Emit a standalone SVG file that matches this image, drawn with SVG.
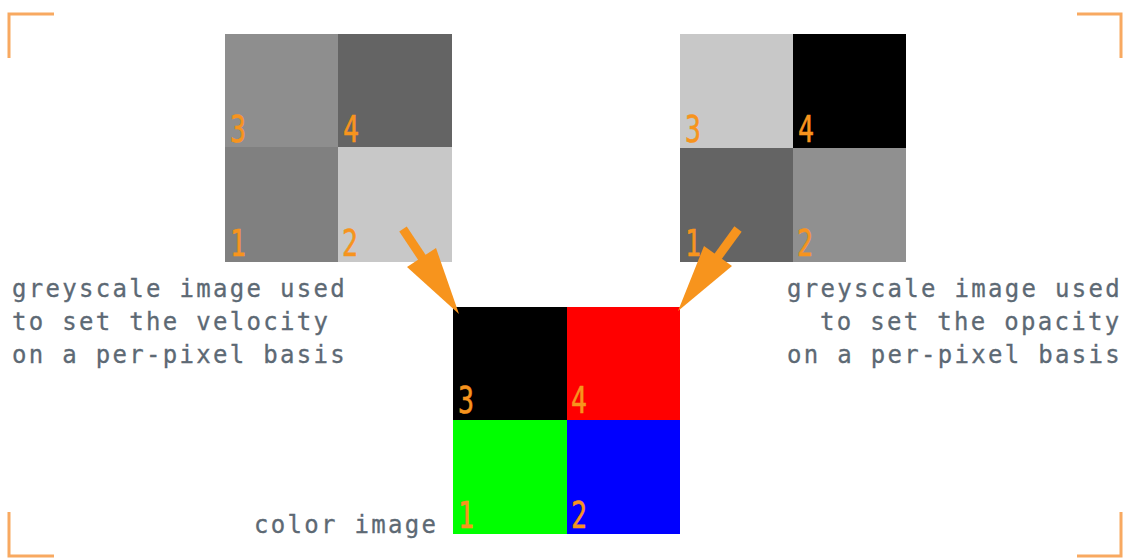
<svg xmlns="http://www.w3.org/2000/svg" width="1128" height="558" viewBox="0 0 1128 558">
<style>
.lbl{font-family:"DejaVu Sans Mono","Liberation Mono",monospace;font-size:24px;letter-spacing:2.3px;fill:#5d6974;stroke:#5d6974;stroke-width:0.3}
.dg{font-family:"DejaVu Sans Mono","Liberation Mono",monospace;font-size:38px;fill:#f7941d;stroke:#f7941d;stroke-width:0.6}
.crn{fill:none;stroke:#f8a961;stroke-width:3}
.arr{fill:#f7941d;stroke:none}
</style>
<rect width="1128" height="558" fill="#ffffff"/>
<g id="corners">
<path class="crn" d="M9 58V14H54"/>
<path class="crn" d="M1077 14H1121V58"/>
<path class="crn" d="M9 512V556H54"/>
<path class="crn" d="M1077 556H1121V512"/>
</g>
<g id="velocity-image">
<rect x="225" y="34" width="113" height="113" fill="#8e8e8e"/>
<rect x="338" y="34" width="114" height="113" fill="#646464"/>
<rect x="225" y="147" width="113" height="115" fill="#808080"/>
<rect x="338" y="147" width="114" height="115" fill="#c8c8c8"/>
<text class="dg" x="230" y="142" textLength="16" lengthAdjust="spacingAndGlyphs">3</text>
<text class="dg" x="343" y="142" textLength="16" lengthAdjust="spacingAndGlyphs">4</text>
<text class="dg" x="230" y="256" textLength="16" lengthAdjust="spacingAndGlyphs">1</text>
<text class="dg" x="342" y="256" textLength="16" lengthAdjust="spacingAndGlyphs">2</text>
<text class="lbl" x="12" y="297">greyscale image used</text>
<text class="lbl" x="12" y="330">to set the velocity</text>
<text class="lbl" x="12" y="363">on a per-pixel basis</text>
</g>
<g id="opacity-image">
<rect x="680" y="34" width="113" height="114" fill="#c8c8c8"/>
<rect x="793" y="34" width="113" height="114" fill="#000000"/>
<rect x="680" y="148" width="113" height="114" fill="#646464"/>
<rect x="793" y="148" width="113" height="114" fill="#909090"/>
<text class="dg" x="685" y="142" textLength="16" lengthAdjust="spacingAndGlyphs">3</text>
<text class="dg" x="798" y="142" textLength="16" lengthAdjust="spacingAndGlyphs">4</text>
<text class="dg" x="685" y="256" textLength="16" lengthAdjust="spacingAndGlyphs">1</text>
<text class="dg" x="797" y="256" textLength="16" lengthAdjust="spacingAndGlyphs">2</text>
<text class="lbl" x="787" y="297">greyscale image used</text>
<text class="lbl" x="820" y="330">to set the opacity</text>
<text class="lbl" x="787" y="363">on a per-pixel basis</text>
</g>
<g id="color-image">
<rect x="453" y="307" width="114" height="113" fill="#000000"/>
<rect x="567" y="307" width="113" height="113" fill="#ff0000"/>
<rect x="453" y="420" width="114" height="114" fill="#00ff00"/>
<rect x="567" y="420" width="113" height="114" fill="#0000ff"/>
<text class="dg" x="458" y="413" textLength="16" lengthAdjust="spacingAndGlyphs">3</text>
<text class="dg" x="571" y="413" textLength="16" lengthAdjust="spacingAndGlyphs">4</text>
<text class="dg" x="458" y="528" textLength="16" lengthAdjust="spacingAndGlyphs">1</text>
<text class="dg" x="571" y="528" textLength="16" lengthAdjust="spacingAndGlyphs">2</text>
<text class="lbl" x="254" y="533">color image</text>
</g>
<g id="connectors">
<line x1="403" y1="229" x2="425" y2="262" stroke="#f7941d" stroke-width="9"/>
<polygon class="arr" points="407,267 436,248 459,314"/>
<line x1="738" y1="229" x2="714" y2="262" stroke="#f7941d" stroke-width="9"/>
<polygon class="arr" points="704,246 732,266 678,311"/>
</g>
</svg>
